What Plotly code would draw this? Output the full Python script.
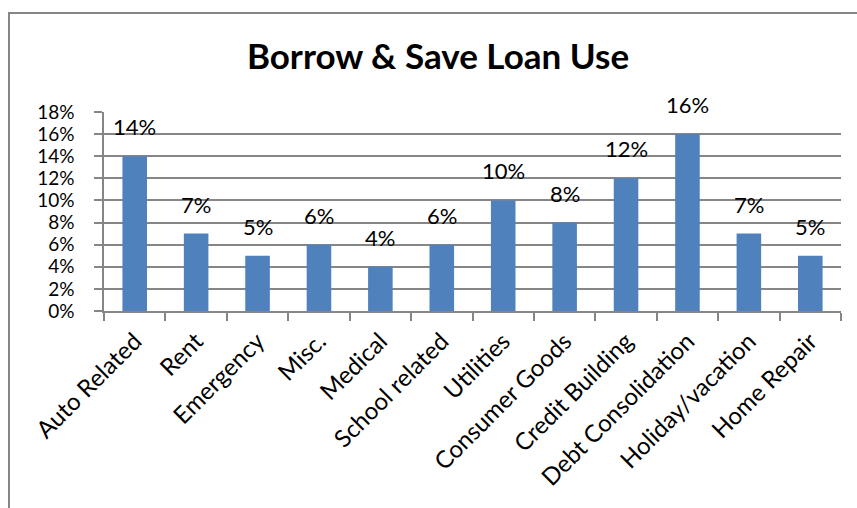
import plotly.graph_objects as go

categories = ["Auto Related", "Rent", "Emergency", "Misc.", "Medical", "School related",
              "Utilities", "Consumer Goods", "Credit Building", "Debt Consolidation",
              "Holiday/vacation", "Home Repair"]
values = [0.14, 0.07, 0.05, 0.06, 0.04, 0.06, 0.10, 0.08, 0.12, 0.16, 0.07, 0.05]
title_text = "Borrow & Save Loan Use"

FONT = "Lato, Calibri, Carlito, sans-serif"
GRAY = "#868686"

fig = go.Figure()
fig.add_trace(go.Bar(x=categories, y=values, marker=dict(color="#4F81BD", line=dict(width=0)),
                     width=0.4, hoverinfo="skip"))

for c, v in zip(categories, values):
    fig.add_annotation(x=c, y=v, text=f"{round(v*100)}%", showarrow=False,
                       yanchor="bottom", yshift=14, font=dict(family=FONT, size=22, color="black"))

fig.add_shape(type="rect", xref="paper", yref="paper", x0=(9-104)/737, x1=1.5,
              y0=-1.5, y1=(311-13)/199, line=dict(color=GRAY, width=2), fillcolor="rgba(0,0,0,0)")

fig.update_layout(
    width=857, height=508,
    margin=dict(l=104, r=16, t=112, b=197),
    paper_bgcolor="white", plot_bgcolor="white",
    showlegend=False,
    title=dict(text=f"<b>{title_text}</b>", x=(438-104)/737, xref="paper", xanchor="center",
               y=1-57/508, yref="container", yanchor="middle",
               font=dict(family=FONT, size=35, color="black")),
    font=dict(family=FONT, size=22, color="black"),
    bargap=0.6,
)
fig.update_xaxes(showline=True, linecolor=GRAY, linewidth=1.5, ticks="outside", tickson="boundaries",
                 ticklen=8, tickcolor=GRAY, tickwidth=1.5, tickangle=-45, showgrid=False,
                 ticklabelstandoff=5,
                 tickfont=dict(family=FONT, size=24, color="black"))
fig.update_yaxes(range=[0, 0.18], dtick=0.02, tickformat=".0%", showline=True, linecolor=GRAY,
                 linewidth=1.5, ticks="outside", ticklen=8, tickcolor=GRAY, tickwidth=1.5,
                 showgrid=True, gridcolor=GRAY, gridwidth=1.5, zeroline=False,
                 ticklabelstandoff=16,
                 tickfont=dict(family=FONT, size=19, color="black"))

fig.write_html("out.html")
